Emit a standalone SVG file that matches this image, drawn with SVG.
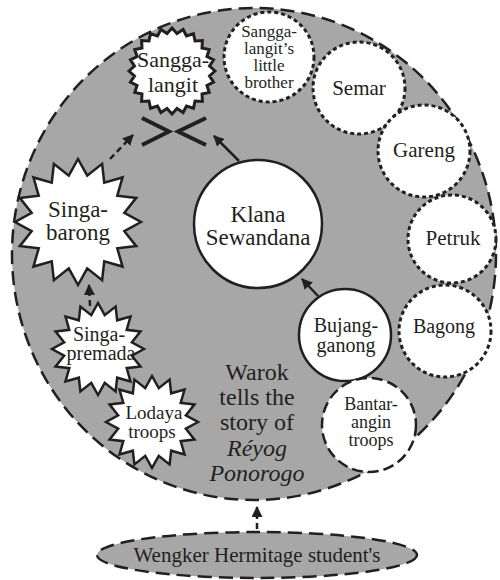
<svg xmlns="http://www.w3.org/2000/svg" xmlns:xlink="http://www.w3.org/1999/xlink" width="500" height="580" viewBox="0 0 500 580">
<style>
text{font-family:"Liberation Serif","Times New Roman",serif;fill:#231f20;text-anchor:middle}
.gray{fill:#a7a7a7;stroke:#231f20;stroke-width:2.5;stroke-dasharray:14 7}
.solid{fill:#fff;stroke:#231f20;stroke-width:2.5}
.dot{fill:#fff;stroke:#231f20;stroke-width:3;stroke-dasharray:4 3}
.dash{fill:#fff;stroke:#231f20;stroke-width:2.5;stroke-dasharray:11 5}
.star{fill:#fff;stroke:#231f20;stroke-linejoin:miter}
.conn{fill:none;stroke:#231f20;stroke-width:2.5}
.dashed{stroke-dasharray:6 4}
.brk{fill:none;stroke:#231f20;stroke-width:4}
</style>
<defs>
<marker id="ah" viewBox="0 0 10 10" refX="9" refY="5" markerWidth="4.4" markerHeight="4.4" markerUnits="strokeWidth" orient="auto">
<path d="M0,0 L10,5 L0,10 z" fill="#231f20"/>
</marker>
<polygon id="star16" points="10,0 7.356,1.463 9.239,3.827 6.236,4.167 7.071,7.071 4.167,6.236 3.827,9.239 1.463,7.356 0,10 -1.463,7.356 -3.827,9.239 -4.167,6.236 -7.071,7.071 -6.236,4.167 -9.239,3.827 -7.356,1.463 -10,0 -7.356,-1.463 -9.239,-3.827 -6.236,-4.167 -7.071,-7.071 -4.167,-6.236 -3.827,-9.239 -1.463,-7.356 0,-10 1.463,-7.356 3.827,-9.239 4.167,-6.236 7.071,-7.071 6.236,-4.167 9.239,-3.827 7.356,-1.463"/>
<polygon id="star24" points="10,0 8.725,1.149 9.659,2.588 8.130,3.368 8.660,5 6.981,5.357 7.071,7.071 5.357,6.981 5,8.660 3.368,8.130 2.588,9.659 1.149,8.725 0,10 -1.149,8.725 -2.588,9.659 -3.368,8.130 -5,8.660 -5.357,6.981 -7.071,7.071 -6.981,5.357 -8.660,5 -8.130,3.368 -9.659,2.588 -8.725,1.149 -10,0 -8.725,-1.149 -9.659,-2.588 -8.130,-3.368 -8.660,-5 -6.981,-5.357 -7.071,-7.071 -5.357,-6.981 -5,-8.660 -3.368,-8.130 -2.588,-9.659 -1.149,-8.725 0,-10 1.149,-8.725 2.588,-9.659 3.368,-8.130 5,-8.660 5.357,-6.981 7.071,-7.071 6.981,-5.357 8.660,-5 8.130,-3.368 9.659,-2.588 8.725,-1.149"/>
</defs>

<g id="story-circle">
<ellipse class="gray" cx="254" cy="254" rx="242" ry="246"/>
<text x="257" y="380" font-size="24">Warok</text>
<text x="257" y="405" font-size="24">tells the</text>
<text x="257" y="430" font-size="24">story of</text>
<text x="257" y="456" font-size="24" font-style="italic">Réyog</text>
<text x="257" y="481" font-size="24" font-style="italic">Ponorogo</text>
</g>

<g id="sanggalangit">
<use xlink:href="#star24" class="star" transform="translate(172,71) scale(4.3)" stroke-width="0.7"/>
<text x="173" y="67" font-size="22">Sangga-</text>
<text x="173" y="92" font-size="22">langit</text>
</g>

<g id="little-brother">
<circle class="dot" cx="269" cy="57" r="45"/>
<text x="269" y="37" font-size="17">Sangga-</text>
<text x="269" y="54" font-size="17">langit’s</text>
<text x="269" y="71" font-size="17">little</text>
<text x="269" y="88" font-size="17">brother</text>
</g>

<g id="semar">
<circle class="dot" cx="359" cy="88" r="46"/>
<text x="359" y="95" font-size="21">Semar</text>
</g>
<g id="gareng">
<circle class="dot" cx="424" cy="151" r="46"/>
<text x="424" y="157" font-size="21">Gareng</text>
</g>
<g id="petruk">
<circle class="dot" cx="452" cy="239" r="44"/>
<text x="453" y="245" font-size="21">Petruk</text>
</g>
<g id="bagong">
<circle class="dot" cx="445" cy="331" r="46"/>
<text x="444" y="333" font-size="20">Bagong</text>
</g>

<g id="singabarong">
<use xlink:href="#star16" class="star" transform="translate(78,222) scale(6.3)" stroke-width="0.4"/>
<text x="78" y="217" font-size="23">Singa-</text>
<text x="78" y="240" font-size="23">barong</text>
</g>

<g id="lodaya">
<use xlink:href="#star16" class="star" transform="translate(152,422) scale(4.6)" stroke-width="0.54"/>
<text x="154" y="419" font-size="19">Lodaya</text>
<text x="152" y="438" font-size="19">troops</text>
</g>

<g id="singapremada">
<use xlink:href="#star16" class="star" transform="translate(98,349) scale(4.6)" stroke-width="0.54"/>
<text x="99" y="341" font-size="20">Singa-</text>
<text x="101" y="360" font-size="20">premada</text>
</g>

<g id="klana">
<circle class="solid" cx="258" cy="224" r="64"/>
<text x="258" y="222" font-size="23">Klana</text>
<text x="258" y="245" font-size="23">Sewandana</text>
</g>

<g id="bujangganong">
<circle class="solid" cx="345" cy="335" r="46"/>
<text x="346" y="332" font-size="20">Bujang-</text>
<text x="346" y="352" font-size="20">ganong</text>
</g>

<g id="bantarangin">
<circle class="dash" cx="369" cy="425" r="47"/>
<text x="371" y="410" font-size="18">Bantar-</text>
<text x="371" y="428" font-size="18">angin</text>
<text x="371" y="446" font-size="18">troops</text>
</g>

<g id="wengker">
<ellipse class="gray" cx="257" cy="555" rx="160" ry="23"/>
<text x="257" y="562" font-size="21">Wengker Hermitage student's</text>
</g>

<g id="connectors">
<polyline class="brk" points="142,118 169,131.5 142,145"/>
<polyline class="brk" points="206,118 178,131.5 206,145"/>
<line class="conn dashed" x1="110" y1="159" x2="133" y2="135" marker-end="url(#ah)"/>
<line class="conn" x1="239" y1="161" x2="214" y2="136" marker-end="url(#ah)"/>
<line class="conn dashed" x1="90" y1="306" x2="89" y2="285" marker-end="url(#ah)"/>
<line class="conn" x1="318" y1="296" x2="302" y2="279" marker-end="url(#ah)"/>
<line class="conn dashed" x1="257" y1="529" x2="257" y2="507" marker-end="url(#ah)"/>
</g>
</svg>
